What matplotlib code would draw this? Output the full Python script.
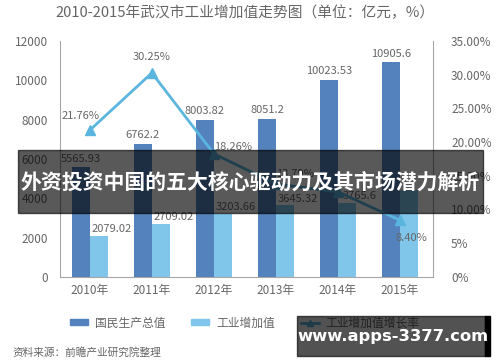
import matplotlib.pyplot as plt
from matplotlib.patches import Rectangle
from matplotlib.lines import Line2D
import numpy as np

plt.rcParams['font.family'] = ['Noto Sans CJK SC', 'DejaVu Sans']

years = ["2010年", "2011年", "2012年", "2013年", "2014年", "2015年"]
gdp = [5565.93, 6762.2, 8003.82, 8051.2, 10023.53, 10905.6]
gdp_labels = ["5565.93", "6762.2", "8003.82", "8051.2", "10023.53", "10905.6"]
industry = [2079.02, 2709.02, 3203.66, 3645.32, 3765.6, 4400.0]
industry_labels = ["2079.02", "2709.02", "3203.66", "3645.32", "3765.6", None]
rate = [21.76, 30.25, 18.26, 13.79, 12.6, 8.40]
rate_labels = ["21.76%", "30.25%", "18.26%", "13.79%", None, "8.40%"]

DARK = "#5382bd"
LIGHT = "#80c5ea"
LINE = "#5ab6df"
GRAY = "#666666"
AXIS = "#a6a6a6"

fig = plt.figure(figsize=(5, 3.62), dpi=100)
ax = fig.add_axes([0.12, 0.235, 0.746, 0.652])
ax2 = ax.twinx()

x = np.arange(len(years))
w = 0.29
ax.bar(x - w / 2, gdp, w, color=DARK, zorder=2)
ax.bar(x + w / 2, industry, w, color=LIGHT, zorder=2)

for i in range(len(years)):
    ax.text(x[i] - w / 2, gdp[i] + 180, gdp_labels[i], ha="center", va="bottom",
            fontsize=8, color=GRAY)
    if industry_labels[i]:
        ax.text(x[i] + w / 2 + 0.2, industry[i] + 80, industry_labels[i], ha="center",
                va="bottom", fontsize=8, color=GRAY)

ax2.plot(x, rate, color=LINE, lw=2, marker="^", ms=7, zorder=3)
offsets = [(-0.15, 1.3, "center"), (0, 1.6, "center"), (0.0, 0.3, "left"),
           (0.0, 0.8, "left"), None, (-0.08, -3.4, "left")]
for i, lab in enumerate(rate_labels):
    if lab is None:
        continue
    dx, dy, ha = offsets[i]
    ax2.text(x[i] + dx, rate[i] + dy, lab, ha=ha, va="bottom", fontsize=8, color=GRAY)

ax.set_xlim(-0.48, 5.53)
ax.set_ylim(0, 12000)
ax2.set_ylim(0, 35)
ax.set_yticks(range(0, 12001, 2000))
ax2.set_yticks([0, 5, 10, 15, 20, 25, 30, 35])
ax2.set_yticklabels(["0%", "5%", "10.00%", "15.00%", "20.00%", "25.00%", "30.00%", "35.00%"])
ax.set_xticks(x)
ax.set_xticklabels(years)

for a in (ax, ax2):
    for s in a.spines.values():
        s.set_visible(False)
    a.tick_params(length=0, labelsize=8.5, colors=GRAY)
ax.spines["left"].set_visible(True)
ax.spines["left"].set_color(AXIS)
ax.spines["bottom"].set_visible(True)
ax.spines["bottom"].set_color(AXIS)
ax2.spines["right"].set_visible(True)
ax2.spines["right"].set_color(AXIS)
ax.tick_params(axis="y", pad=8.5)
ax2.tick_params(axis="y", pad=13)
ax.tick_params(axis="x", pad=5)

fig.text(0.49, 0.965, "2010-2015年武汉市工业增加值走势图（单位：亿元，%）", ha="center",
         va="center", fontsize=10.6, color=GRAY)

handles = [Rectangle((0, 0), 1, 1, color=DARK), Rectangle((0, 0), 1, 1, color=LIGHT),
           Line2D([0], [0], color=LINE, lw=2, marker="^", ms=5)]
fig.legend(handles, ["国民生产总值", "工业增加值", "工业增加值增长率"], loc="center",
           bbox_to_anchor=(0.49, 0.108), ncol=3, frameon=False, fontsize=8.5,
           handlelength=1.5, handleheight=0.35, handletextpad=0.6, columnspacing=2.2,
           labelcolor=GRAY)

fig.text(0.024, 0.027, "资料来源：前瞻产业研究院整理", fontsize=7.7, color=GRAY, va="center")

# overlay banner
fig.patches.append(Rectangle((18 / 500, 1 - 213 / 362), 465 / 500, 63 / 362,
                             transform=fig.transFigure, color="black", alpha=0.65, zorder=10))
fig.text(0.5, 1 - 182 / 362, "外资投资中国的五大核心驱动力及其市场潜力解析", ha="center",
         va="center", fontsize=15, color="white", fontweight="bold", zorder=11)

# watermark
fig.patches.append(Rectangle((297 / 500, 1 - 356 / 362), 188 / 500, 40 / 362,
                             transform=fig.transFigure, color="black", alpha=0.68, zorder=10))
fig.patches.append(Rectangle((485 / 500, 1 - 356 / 362), 5 / 500, 40 / 362,
                             transform=fig.transFigure, color="black", zorder=10))
fig.text(393 / 500, 1 - 337 / 362, "www.apps-3377.com", ha="center", va="center",
         fontsize=11.8, color="white", fontweight="bold", family="DejaVu Sans", zorder=11)

fig.savefig("out.png", dpi=100)
